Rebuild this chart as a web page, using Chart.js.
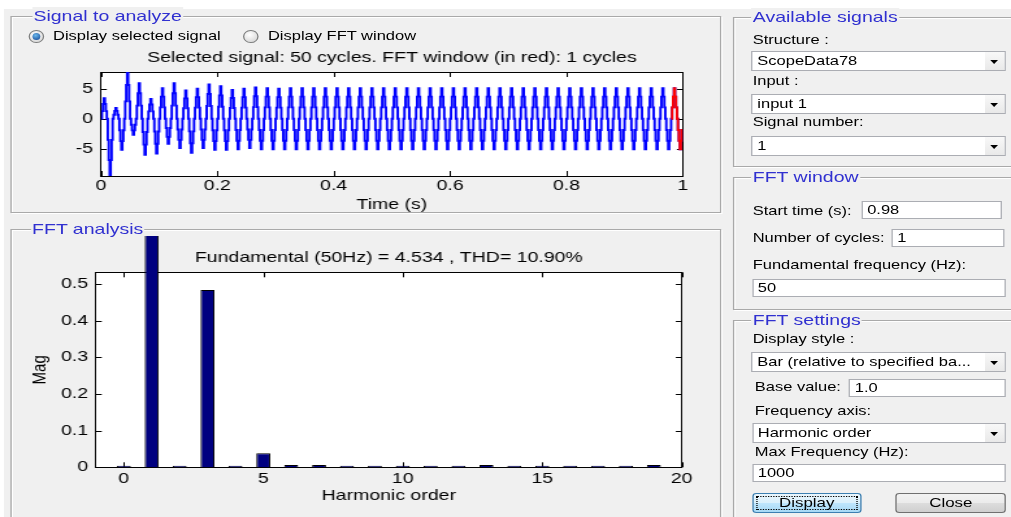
<!DOCTYPE html>
<html>
<head>
<meta charset="utf-8">
<title>FFT Analysis Tool</title>
<script src="https://cdn.jsdelivr.net/npm/chart.js@4.4.1/dist/chart.umd.min.js"></script>
<style>
  html, body { margin: 0; padding: 0; background: #fff; overflow: hidden; width: 1011px; height: 517px; }
  /* the whole window is laid out at 778px and stretched to 1011px, like the screenshot */
  #gui { position: absolute; left: 0; top: 0; width: 778px; height: 517px; overflow: hidden;
         transform: scaleX(1.2995); transform-origin: 0 0;
         font-family: 'Liberation Sans', Arial, sans-serif; font-size: 12.7px; color: #000; }
  #face { position: absolute; left: 3px; top: 9px; right: 0; bottom: 0; background: #f0f0f0; }
  .panel { position: absolute; box-sizing: border-box; border: 1px solid #a9a9a9;
           box-shadow: 1px 1px 0 #fff, inset 1px 1px 0 #fff; }
  .ptitle { position: absolute; top: -10px; background: #f0f0f0; color: #3030d0; font-size: 15px;
            line-height: 18px; padding: 0 1px; white-space: nowrap; }
  .lbl { position: absolute; white-space: nowrap; line-height: 16px; }
  .edit, .drop { position: absolute; box-sizing: border-box; background: #fff; border: 1px solid #abadb3;
                 padding-left: 3.5px; white-space: nowrap; overflow: hidden; }
  .drop .arrow { position: absolute; right: 0; top: 0; bottom: 0; width: 15px;
                 background: linear-gradient(#f8f8f8, #e9e9e9); }
  .drop .arrow::after { content: ''; position: absolute; left: 4px; top: 50%; margin-top: -1.5px;
                        border-left: 3.5px solid transparent; border-right: 3.5px solid transparent;
                        border-top: 4px solid #000; }
  .radio { position: absolute; width: 11.5px; height: 13px; box-sizing: border-box; border-radius: 50%;
           border: 1px solid #7f8080; background: radial-gradient(circle at 40% 35%, #fff, #cfcfcf); }
  .radio.on::after { content: ''; position: absolute; left: 1.7px; top: 2px; width: 6px; height: 7px;
                     border-radius: 50%; background: radial-gradient(circle at 40% 35%, #6bb8ec, #0d3f8f); }
  .btn { position: absolute; box-sizing: border-box; border-radius: 3px; text-align: center; font-size: 13px; }
  #btnDisplay { border: 1px solid #3c7fb1; background: linear-gradient(#eaf6fd, #d9f0fc 50%, #bee6fd 50%, #a7d9f5); }
  #btnDisplay span { position: absolute; left: 2px; right: 2px; top: 2px; bottom: 2px; border: 1px dotted #000; }
  #btnClose { border: 1px solid #707070; background: linear-gradient(#f2f2f2, #ebebeb 50%, #dddddd 50%, #cfcfcf); }
  canvas { position: absolute; }
</style>
</head>
<body>
<div id="gui">
  <div id="face"></div>

  <!-- left side -->
  <div class="panel" style="left:7.7px; top:16px; width:547.7px; height:197px;">
    <div class="ptitle" style="left:16px;">Signal to analyze</div>
  </div>
  <div class="radio on" style="left:22px; top:29.5px;"></div>
  <div class="lbl" style="left:40.8px; top:28px;">Display selected signal</div>
  <div class="radio" style="left:187.4px; top:29.5px;"></div>
  <div class="lbl" style="left:206.2px; top:28px;">Display FFT window</div>

  <div class="panel" style="left:7.7px; top:229px; width:547.7px; height:300px;">
    <div class="ptitle" style="left:15px;">FFT analysis</div>
  </div>

  <canvas id="signalChart" width="510" height="168" style="left:30px; top:46px;"></canvas>
  <canvas id="fftChart" width="525" height="270" style="left:20px; top:236px;"></canvas>

  <!-- right side -->
  <div class="panel" style="left:563.8px; top:17px; width:230px; height:150px;">
    <div class="ptitle" style="left:13.5px;">Available signals</div>
  </div>
  <div class="lbl" style="left:579.2px; top:32px;">Structure :</div>
  <div class="drop" style="left:578.3px; top:51px; width:195.5px; height:20px; line-height:18px;">ScopeData78<div class="arrow"></div></div>
  <div class="lbl" style="left:579.2px; top:73px;">Input :</div>
  <div class="drop" style="left:578.3px; top:94px; width:195.5px; height:20px; line-height:18px;">input 1<div class="arrow"></div></div>
  <div class="lbl" style="left:579.2px; top:114px;">Signal number:</div>
  <div class="drop" style="left:578.3px; top:136px; width:195.5px; height:20px; line-height:18px;">1<div class="arrow"></div></div>

  <div class="panel" style="left:563.8px; top:177px; width:230px; height:133px;">
    <div class="ptitle" style="left:13.5px;">FFT window</div>
  </div>
  <div class="lbl" style="left:579.2px; top:203px;">Start time (s):</div>
  <div class="edit" style="left:662.8px; top:201px; width:108.5px; height:18px; line-height:16px;">0.98</div>
  <div class="lbl" style="left:579.2px; top:230px;">Number of cycles:</div>
  <div class="edit" style="left:686px; top:229px; width:86.5px; height:18px; line-height:16px;">1</div>
  <div class="lbl" style="left:579.2px; top:257px;">Fundamental frequency (Hz):</div>
  <div class="edit" style="left:578.6px; top:279px; width:195.5px; height:18px; line-height:16px;">50</div>

  <div class="panel" style="left:563.8px; top:320px; width:230px; height:220px;">
    <div class="ptitle" style="left:13.5px;">FFT settings</div>
  </div>
  <div class="lbl" style="left:579.2px; top:331px;">Display style :</div>
  <div class="drop" style="left:578.3px; top:352px; width:195.5px; height:20px; line-height:18px;">Bar (relative to specified ba...<div class="arrow"></div></div>
  <div class="lbl" style="left:580.8px; top:379px;">Base value:</div>
  <div class="edit" style="left:653.3px; top:379px; width:120.3px; height:18px; line-height:16px;">1.0</div>
  <div class="lbl" style="left:580.8px; top:403px;">Frequency axis:</div>
  <div class="drop" style="left:578.6px; top:423px; width:195.5px; height:20px; line-height:18px;">Harmonic order<div class="arrow"></div></div>
  <div class="lbl" style="left:580.8px; top:444px;">Max Frequency (Hz):</div>
  <div class="edit" style="left:578.6px; top:464px; width:195.5px; height:18px; line-height:16px;">1000</div>
  <div class="btn" id="btnDisplay" style="left:578.5px; top:493px; width:84.6px; height:20px; line-height:18px;"><span></span>Display</div>
  <div class="btn" id="btnClose" style="left:689.2px; top:493px; width:85px; height:20px; line-height:18px;">Close</div>
</div>

<script>
// Signal: peak and trough of each of the 50 cycles
const cyclePeak = [3.4, 1.8, 7.78, 5.9, 3.3, 5.1, 5.9, 4.7, 5.0, 5.7,
                   5.4, 4.8, 5.0, 5.2, 5.1, 5.0, 5.1, 5.1, 5.1, 5.1,
                   5.1, 5.1, 5.1, 5.1, 5.1, 5.1, 5.1, 5.1, 5.1, 5.1,
                   5.1, 5.1, 5.1, 5.1, 5.1, 5.1, 5.1, 5.1, 5.1, 5.1,
                   5.1, 5.1, 5.1, 5.1, 5.1, 5.1, 5.1, 5.1, 5.1, 5.1];
const cycleTrough = [-9.55, -5.2, -2.7, -6.0, -5.8, -4.2, -4.9, -5.7, -4.9, -5.2,
                     -5.2, -5.1, -4.9, -5.1, -5.1, -5.1, -5.1, -5.1, -5.1, -5.1,
                     -5.1, -5.1, -5.1, -5.1, -5.1, -5.1, -5.1, -5.1, -5.1, -5.1,
                     -5.1, -5.1, -5.1, -5.1, -5.1, -5.1, -5.1, -5.1, -5.1, -5.1,
                     -5.1, -5.1, -5.1, -5.1, -5.1, -5.1, -5.1, -5.1, -5.1, -5.1];
// staircase levels of one half cycle, as a fraction of the peak (6 steps per half cycle)
const stepShape = [0, 0.37, 0.72, 1, 0.72, 0.37];
const sampleTime = 1 / 600;
const windowStart = 0.98;

const timeTicks = [0, 0.2, 0.4, 0.6, 0.8, 1];
const timeTickLabels = ['0', '0.2', '0.4', '0.6', '0.8', '1'];
const signalTicks = [-5, 0, 5];
const signalTickLabels = ['-5', '0', '5'];

// FFT result (relative to base value 1.0)
const harmonicOrder = [0, 1, 2, 3, 4, 5, 6, 7, 8, 9, 10, 11, 12, 13, 14, 15, 16, 17, 18, 19];
const harmonicMag = [0.004, 4.534, 0.004, 0.484, 0.004, 0.038, 0.006, 0.006, 0.004, 0.004,
                     0.004, 0.004, 0.004, 0.006, 0.004, 0.004, 0.004, 0.004, 0.004, 0.006];
const harmonicTicks = [0, 5, 10, 15, 20];
const harmonicTickLabels = ['0', '5', '10', '15', '20'];
const magTicks = [0, 0.1, 0.2, 0.3, 0.4, 0.5];
const magTickLabels = ['0', '0.1', '0.2', '0.3', '0.4', '0.5'];

Chart.defaults.font.family = "'Liberation Sans', Arial, sans-serif";
Chart.defaults.font.size = 15;
Chart.defaults.color = '#000';

// Build the stepped trace from the read cycle values
const signalPoints = [];
let n = 0;
cyclePeak.forEach((peak, c) => {
    stepShape.forEach(s => signalPoints.push({ x: (n++) * sampleTime, y: s * peak }));
    stepShape.forEach(s => signalPoints.push({ x: (n++) * sampleTime, y: s * cycleTrough[c] }));
});
signalPoints.push({ x: 1, y: signalPoints[signalPoints.length - 1].y });
const windowPoints = signalPoints.filter(p => p.x >= windowStart - 1e-9);

// white plot box behind the data
const plotBackground = {
    id: 'plotBackground',
    beforeDraw(chart) {
        const { ctx, chartArea } = chart;
        ctx.save();
        ctx.fillStyle = '#fff';
        ctx.fillRect(chartArea.left, chartArea.top, chartArea.width, chartArea.height);
        ctx.restore();
    }
};

// matlab style: tick marks point into the plot box on all four sides
const inwardTicks = {
    id: 'inwardTicks',
    beforeDatasetsDraw(chart) {
        const { ctx, chartArea: a } = chart;
        ctx.save();
        ctx.strokeStyle = '#000';
        ctx.lineWidth = 1;
        Object.values(chart.scales).forEach(scale => {
            const pos = scale.options.position;
            scale.ticks.forEach(t => {
                const p = Math.round(scale.getPixelForValue(t.value)) + 0.5;
                ctx.beginPath();
                if (pos === 'bottom') { ctx.moveTo(p, a.bottom); ctx.lineTo(p, a.bottom - 5); }
                if (pos === 'top') { ctx.moveTo(p, a.top); ctx.lineTo(p, a.top + 5); }
                if (pos === 'left') { ctx.moveTo(a.left, p); ctx.lineTo(a.left + 4.5, p); }
                if (pos === 'right') { ctx.moveTo(a.right, p); ctx.lineTo(a.right - 4.5, p); }
                ctx.stroke();
            });
        });
        ctx.restore();
    }
};

function boxAxis(position, min, max, ticks, size, extra) {
    return Object.assign({
        type: 'linear',
        position,
        min,
        max,
        afterBuildTicks: scale => { scale.ticks = ticks.map(v => ({ value: v })); },
        afterFit: scale => {
            if (scale.isHorizontal()) scale.height = size; else scale.width = size;
        },
        grid: { display: false, drawOnChartArea: false, drawTicks: true, tickLength: -5 },
        border: { display: true, color: '#000', width: 1 },
        ticks: { display: false }
    }, extra);
}

new Chart(document.getElementById('signalChart'), {
    type: 'line',
    data: {
        datasets: [
            { data: windowPoints, borderColor: '#ff0000', borderWidth: 1.9, pointRadius: 0, stepped: true, xAxisID: 'x', yAxisID: 'y' },
            { data: signalPoints, borderColor: '#0000ff', borderWidth: 1.9, pointRadius: 0, stepped: true, xAxisID: 'x', yAxisID: 'y' }
        ]
    },
    options: {
        responsive: false,
        animation: false,
        events: [],
        layout: { padding: { left: 0, right: 14.6, top: 0, bottom: 0 } },
        plugins: {
            legend: { display: false },
            tooltip: { enabled: false },
            title: {
                display: true,
                text: 'Selected signal: 50 cycles. FFT window (in red): 1 cycles',
                fullSize: false,
                font: { size: 15, weight: 'normal' },
                color: '#000',
                padding: { top: 3, bottom: 5 }
            }
        },
        scales: {
            x: boxAxis('bottom', 0, 1, timeTicks, 38, {
                ticks: { display: true, padding: 6, maxRotation: 0, callback: (v, i) => timeTickLabels[i] },
                title: { display: true, text: 'Time (s)', font: { size: 15 }, padding: { top: 0, bottom: 0 } }
            }),
            xTop: boxAxis('top', 0, 1, timeTicks, 0),
            y: boxAxis('left', -9.55, 7.78, signalTicks, 47.7, {
                ticks: { display: true, padding: 11.2, callback: (v, i) => signalTickLabels[i] }
            }),
            yRight: boxAxis('right', -9.55, 7.78, signalTicks, 0)
        }
    },
    plugins: [plotBackground, inwardTicks]
});

new Chart(document.getElementById('fftChart'), {
    type: 'bar',
    data: {
        datasets: [{
            data: harmonicOrder.map((h, i) => ({ x: h, y: harmonicMag[i] })),
            backgroundColor: '#000080',
            borderColor: '#000',
            borderWidth: 1,
            barPercentage: 0.5,
            categoryPercentage: 1,
            clip: false,
            xAxisID: 'x',
            yAxisID: 'y'
        }]
    },
    options: {
        responsive: false,
        animation: false,
        events: [],
        layout: { padding: { left: 0, right: 20.4, top: 0, bottom: 0 } },
        plugins: {
            legend: { display: false },
            tooltip: { enabled: false },
            title: {
                display: true,
                text: 'Fundamental (50Hz) = 4.534 , THD= 10.90%',
                fullSize: false,
                font: { size: 15, weight: 'normal' },
                color: '#000',
                padding: { top: 13, bottom: 5.3 }
            }
        },
        scales: {
            x: boxAxis('bottom', -1, 20, harmonicTicks, 38.7, {
                offset: false,
                ticks: { display: true, padding: 8, maxRotation: 0, callback: (v, i) => harmonicTickLabels[i] },
                title: { display: true, text: 'Harmonic order', font: { size: 15 }, padding: { top: 0, bottom: 1 } }
            }),
            xTop: boxAxis('top', -1, 20, harmonicTicks, 0, { offset: false }),
            y: boxAxis('left', 0, 0.532, magTicks, 53.8, {
                ticks: { display: true, padding: 11, callback: (v, i) => magTickLabels[i] },
                title: { display: true, text: 'Mag', font: { size: 15 }, padding: { top: 2, bottom: 0 } }
            }),
            yRight: boxAxis('right', 0, 0.532, magTicks, 0)
        }
    },
    plugins: [plotBackground, inwardTicks]
});
</script>
</body>
</html>
